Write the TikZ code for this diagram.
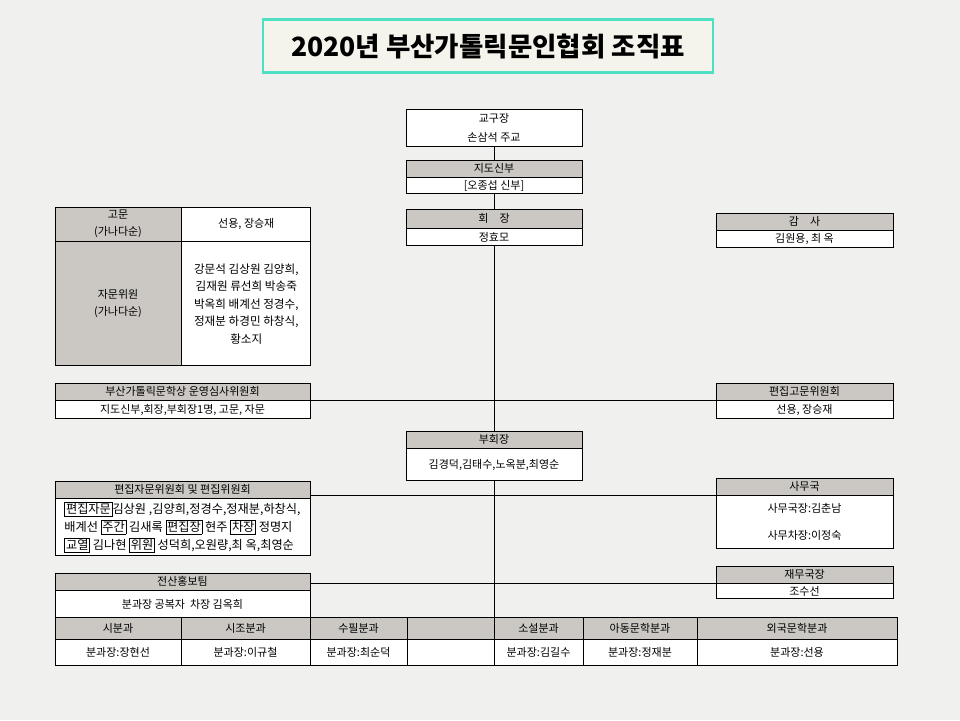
\documentclass[tikz,border=0pt]{standalone}
\usepackage{fontspec}
\setmainfont{Noto Sans CJK KR}
\usetikzlibrary{positioning}
\definecolor{paper}{HTML}{F0F0EF}
\definecolor{hdrgray}{HTML}{CBC8C4}
\definecolor{titleteal}{HTML}{4FDFC3}
\definecolor{titlebg}{HTML}{F5F4EC}
\newcommand{\tagword}[1]{{\setlength{\fboxsep}{1pt}\setlength{\fboxrule}{0.6pt}\fbox{#1}}}

\begin{document}
\begin{tikzpicture}[x=1pt, y=-1pt,
  hdr/.style={draw, line width=0.8pt, fill=hdrgray, inner sep=1pt,
    font=\fontsize{11}{13}\selectfont, align=center},
  cell/.style={draw, line width=0.8pt, fill=white, inner sep=1pt,
    font=\fontsize{11}{13}\selectfont, align=center},
  link/.style={line width=0.7pt}
]
  \fill[paper] (0,0) rectangle (960,720);

  % --- title ---
  \node[draw=titleteal, line width=2.5pt, fill=titlebg, minimum width=450, minimum height=53,
    font=\fontsize{26.5}{30}\selectfont\bfseries] (title) at (488,46) {2020년 부산가톨릭문인협회 조직표};

  % --- center column ---
  \node[cell, minimum width=176, minimum height=37, font=\fontsize{11}{19}\selectfont]
    (gyogu) at (494,127.5) {교구장\\손삼석 주교};
  \node[hdr, minimum width=176, minimum height=17] (jido) at (494,168.5) {지도신부};
  \node[cell, minimum width=176, minimum height=16, below=0pt of jido] (jidob) {[오종섭 신부]};
  \node[hdr, minimum width=176, minimum height=19] (hoe) at (494,218.5) {회\quad 장};
  \node[cell, minimum width=176, minimum height=17, below=0pt of hoe] (hoeb) {정효모};
  \node[hdr, minimum width=176, minimum height=17] (bu) at (494,439.5) {부회장};
  \node[cell, minimum width=176, minimum height=32, below=0pt of bu] (bub) {김경덕,김태수,노옥분,최영순};

  % --- right column ---
  \node[hdr, minimum width=177, minimum height=17] (gamsa) at (804.5,221.5) {감\quad 사};
  \node[cell, minimum width=177, minimum height=17, below=0pt of gamsa] (gamsab) {김원용, 최 옥};
  \node[hdr, minimum width=177, minimum height=17] (pgomun) at (804.5,391.5) {편집고문위원회};
  \node[cell, minimum width=177, minimum height=18, below=0pt of pgomun] (pgomunb) {선용, 장승재};
  \node[hdr, minimum width=177, minimum height=17] (samu) at (804.5,486.5) {사무국};
  \node[cell, minimum width=177, minimum height=53, below=0pt of samu,
    font=\fontsize{11}{27}\selectfont] (samub) {사무국장:김춘남\\사무차장:이정숙};
  \node[hdr, minimum width=177, minimum height=17] (jaemu) at (804.5,574.5) {재무국장};
  \node[cell, minimum width=177, minimum height=15, below=0pt of jaemu] (jaemub) {조수선};

  % --- left column ---
  \node[hdr, minimum width=126, minimum height=34, font=\fontsize{11}{17}\selectfont]
    (gomun) at (118,224) {고문\\(가나다순)};
  \node[cell, minimum width=129, minimum height=34, right=0pt of gomun] (gomunb) {선용, 장승재};
  \node[hdr, minimum width=126, minimum height=124, below=0pt of gomun,
    font=\fontsize{11}{17}\selectfont] (jamun) {자문위원\\(가나다순)};
  \node[cell, minimum width=129, minimum height=124, right=0pt of jamun,
    font=\fontsize{11.6}{17.5}\selectfont] (jamunb)
    {강문석 김상원 김양희,\\김재원 류선희 박송죽\\박옥희 배계선 정경수,\\정재분 하경민 하창식,\\황소지};

  \node[hdr, minimum width=255, minimum height=17] (simsa) at (182.5,391.5) {부산가톨릭문학상 운영심사위원회};
  \node[cell, minimum width=255, minimum height=18, below=0pt of simsa] (simsab)
    {지도신부,회장,부회장1명, 고문, 자문};
  \node[hdr, minimum width=255, minimum height=17] (edit) at (182.5,489.5) {편집자문위원회 및 편집위원회};
  \node[cell, minimum width=255, minimum height=57, below=0pt of edit, align=left,
    font=\fontsize{12.2}{18}\selectfont] (editb)
    {\tagword{편집자문}김상원 ,김양희,정경수,정재분,하창식,\\
     배계선 \tagword{주간} 김새록 \tagword{편집장} 현주 \tagword{차장} 정명지\\
     \tagword{교열} 김나현 \tagword{위원} 성덕희,오원량,최 옥,최영순};
  \node[hdr, minimum width=255, minimum height=17] (jeonsan) at (182.5,581.5) {전산홍보팀};
  \node[cell, minimum width=255, minimum height=27, below=0pt of jeonsan] (jeonsanb)
    {분과장 공복자\ \ 차장 김옥희};

  % --- bottom row: sections ---
  \foreach \l/\r/\h/\b [count=\i] in {55/181/시분과/분과장:장현선, 181/310/시조분과/분과장:이규철,
      310/407/수필분과/분과장:최순덕, 407/494/{}/{}, 494/583/소설분과/분과장:김길수,
      583/697/아동문학분과/분과장:정재분, 697/897/외국문학분과/분과장:선용} {
    \node[hdr, minimum width={\r-\l}, minimum height=22] (bh\i) at ({(\l+\r)/2},628) {\h};
    \node[cell, minimum width={\r-\l}, minimum height=26, below=0pt of bh\i] (bb\i) {\b};
  }

  % --- connectors ---
  \draw[link] (gyogu.south) -- (jido.north);
  \draw[link] (jidob.south) -- (hoe.north);
  \draw[link] (hoeb.south) -- (bu.north);
  \draw[link] (bub.south) -- (bub.south |- bh4.north);
  \draw[link] (simsa.south east) -- (pgomun.south west);
  \draw[link] (samu.south west) -- (samu.south west -| edit.east);
  \draw[link] (jaemu.south west) -- (jaemu.south west -| jeonsan.east);
\end{tikzpicture}
\end{document}
